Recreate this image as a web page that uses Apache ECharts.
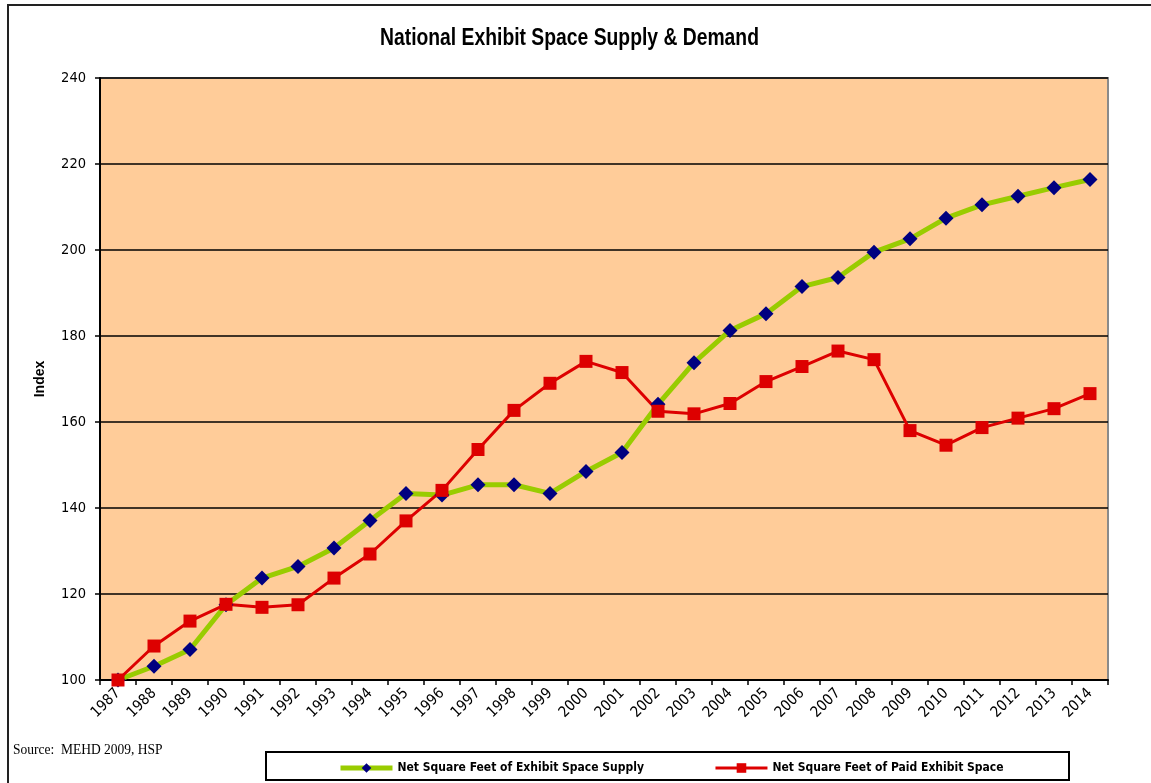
<!DOCTYPE html>
<html>
<head>
<meta charset="utf-8">
<script src="https://cdn.jsdelivr.net/npm/echarts@6/dist/echarts.min.js"></script>
<style>
html, body { margin: 0; padding: 0; background: #fff; }
#chart { width: 1151px; height: 783px; }
</style>
</head>
<body>
<div id="chart"></div>
<script>
var years = ['1987','1988','1989','1990','1991','1992','1993','1994','1995','1996','1997','1998','1999','2000',
    '2001','2002','2003','2004','2005','2006','2007','2008','2009','2010','2011','2012','2013','2014']
var supply = [100, 103.2, 107.1, 117.5, 123.7, 126.4, 130.7, 137.1, 143.4, 143.0, 145.4, 145.4, 143.4, 148.5,
    152.9, 164.1, 173.8, 181.3, 185.2, 191.5, 193.6, 199.5, 202.6, 207.4, 210.5, 212.5, 214.5, 216.4]
var paid = [100, 107.9, 113.7, 117.6, 116.9, 117.5, 123.7, 129.3, 137.0, 144.1, 153.6, 162.7, 169.0, 174.1,
    171.5, 162.5, 161.9, 164.3, 169.4, 172.9, 176.5, 174.5, 158.0, 154.6, 158.7, 160.9, 163.1, 166.6]
var yTicks = [100, 120, 140, 160, 180, 200, 220, 240]

var condensed = "'DejaVu Sans Condensed', 'Liberation Sans', sans-serif"
var sans = "'Liberation Sans', Arial, sans-serif"

var myChart = echarts.init(document.getElementById('chart'))
var option = {
    animation: false,
    grid: {
        left: 100,
        right: 43,
        top: 78,
        bottom: 103,
        show: true,
        backgroundColor: '#FFCC99',
        borderColor: '#8a8a8a',
        borderWidth: 2
    },
    legend: {
        left: 333,
        top: 757,
        itemWidth: 52,
        itemHeight: 12,
        itemGap: 70,
        textStyle: {
            fontFamily: condensed,
            fontSize: 12,
            fontWeight: 'bold',
            color: '#000'
        },
        data: [
            { name: 'Net Square Feet of Exhibit Space Supply', lineStyle: { width: 5 } },
            { name: 'Net Square Feet of Paid Exhibit Space', lineStyle: { width: 3 } }
        ]
    },
    graphic: [
        {
            type: 'rect',
            shape: { x: 8, y: 5, width: 1170, height: 820 },
            style: { fill: 'none', stroke: '#222', lineWidth: 2 },
            silent: true
        },
        {
            type: 'rect',
            shape: { x: 266, y: 752, width: 803, height: 28 },
            style: { fill: 'none', stroke: '#000', lineWidth: 2 },
            silent: true,
            z: -1
        },
        {
            // title, narrowed like Arial Narrow
            type: 'text',
            x: 380,
            y: 27,
            scaleX: 0.84,
            style: {
                text: 'National Exhibit Space Supply & Demand',
                fontFamily: sans,
                fontSize: 23,
                fontWeight: 'bold',
                fill: '#000'
            }
        },
        {
            type: 'text',
            x: 13,
            y: 743,
            scaleX: 0.9,
            style: {
                text: 'Source:  MEHD 2009, HSP',
                fontFamily: "'Liberation Serif', 'Times New Roman', serif",
                fontSize: 15,
                fill: '#000'
            }
        }
    ],
    xAxis: {
        type: 'category',
        data: years,
        boundaryGap: true,
        axisLine: {
            lineStyle: { color: '#000', width: 2 }
        },
        axisTick: {
            show: true,
            length: 5,
            lineStyle: { color: '#000', width: 1.5 }
        },
        axisLabel: {
            rotate: 45,
            margin: 11,
            interval: 0,
            color: '#000',
            fontFamily: condensed,
            fontSize: 15
        },
        splitLine: { show: false }
    },
    yAxis: {
        type: 'value',
        min: yTicks[0],
        max: yTicks[yTicks.length - 1],
        interval: 20,
        name: 'Index',
        nameLocation: 'middle',
        nameGap: 53,
        nameTextStyle: {
            fontFamily: sans,
            fontSize: 14,
            fontWeight: 'bold',
            color: '#000'
        },
        axisLine: {
            show: true,
            lineStyle: { color: '#000', width: 2 }
        },
        axisTick: {
            show: true,
            length: 5,
            lineStyle: { color: '#000', width: 1.5 }
        },
        axisLabel: {
            margin: 14,
            color: '#000',
            fontFamily: condensed,
            fontSize: 14.5
        },
        splitLine: {
            show: true,
            lineStyle: { color: '#000', width: 1.5 }
        }
    },
    series: [
        {
            name: 'Net Square Feet of Exhibit Space Supply',
            type: 'line',
            data: supply,
            symbol: 'diamond',
            symbolSize: 15,
            lineStyle: { color: '#99CC00', width: 5 },
            itemStyle: { color: '#000080' }
        },
        {
            name: 'Net Square Feet of Paid Exhibit Space',
            type: 'line',
            data: paid,
            symbol: 'rect',
            symbolSize: 13,
            lineStyle: { color: '#DD0000', width: 3 },
            itemStyle: { color: '#DD0000' }
        }
    ]
}
myChart.setOption(option)
</script>
</body>
</html>
